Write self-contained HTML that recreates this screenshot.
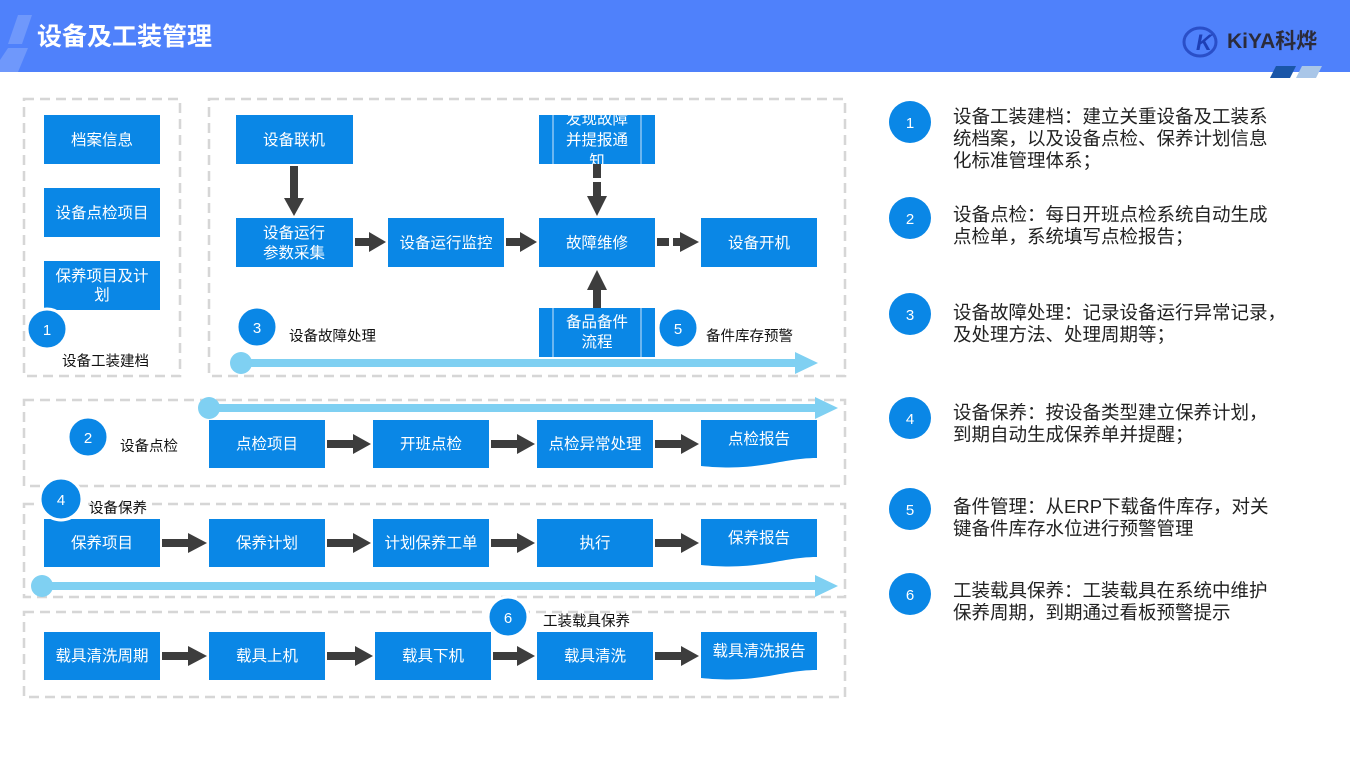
<!DOCTYPE html>
<html><head><meta charset="utf-8"><style>
body{margin:0;width:1350px;height:759px;overflow:hidden;background:#fff;font-family:"Liberation Sans","Noto Sans CJK SC",sans-serif;}
svg text{font-family:"Liberation Sans","Noto Sans CJK SC",sans-serif;}
</style></head><body>
<svg width="1350" height="759" viewBox="0 0 1350 759" xmlns="http://www.w3.org/2000/svg">
<defs>
<clipPath id="c1"><rect x="539" y="115" width="116" height="49"/></clipPath>
</defs>
<!-- header -->
<rect x="0" y="0" width="1350" height="72" fill="#4f81fb"/>
<polygon points="18,15 32,15 22,44 8,44" fill="#6f98fb"/>
<polygon points="8,48 28,48 18,72 0,72 0,60" fill="#6f98fb"/>
<text x="37" y="45" fill="#fff" font-size="25" font-weight="bold">设备及工装管理</text>
<ellipse cx="1200" cy="42" rx="16" ry="14" fill="none" stroke="#2a4fc8" stroke-width="3"/>
<text x="1196" y="50" fill="#1e3fb5" font-size="22" font-weight="bold" font-style="italic">K</text>
<text x="1227" y="48" fill="#2b2b3a" font-size="21" font-weight="bold">KiYA科烨</text>
<polygon points="1276,66 1296,66 1290,78 1270,78" fill="#1a56a8"/>
<polygon points="1302,66 1322,66 1316,78 1296,78" fill="#a9c6e8"/>

<g fill="none" stroke="#d6d6d6" stroke-width="2.5" stroke-dasharray="10,6">
<rect x="24" y="99" width="156" height="277"/>
<rect x="209" y="99" width="636" height="277"/>
<rect x="24" y="400" width="821" height="86"/>
<rect x="24" y="504" width="821" height="93"/>
<rect x="24" y="612" width="821" height="85"/>
</g>

<g fill="#7fd0f2">
<rect x="241" y="359" width="560" height="8"/><polygon points="795,352 818,363 795,374"/><circle cx="241" cy="363" r="11"/>
<rect x="209" y="404" width="610" height="8"/><polygon points="815,397 838,408 815,419"/><circle cx="209" cy="408" r="11"/>
<rect x="42" y="582" width="777" height="8"/><polygon points="815,575 838,586 815,597"/><circle cx="42" cy="586" r="11"/>
</g>

<g fill="#0a87e6">
<rect x="44" y="115" width="116" height="49"/>
<rect x="44" y="188" width="116" height="49"/>
<rect x="44" y="261" width="116" height="49"/>
<rect x="236" y="115" width="117" height="49"/>
<rect x="236" y="218" width="117" height="49"/>
<rect x="388" y="218" width="116" height="49"/>
<rect x="539" y="218" width="116" height="49"/>
<rect x="701" y="218" width="116" height="49"/>
<rect x="539" y="115" width="116" height="49"/>
<rect x="539" y="308" width="116" height="49"/>
<rect x="209" y="420" width="116" height="48"/>
<rect x="373" y="420" width="116" height="48"/>
<rect x="537" y="420" width="116" height="48"/>
<path d="M701,420 H817 V458 C780,458 760,472 701,466 Z"/>
<rect x="44" y="519" width="116" height="48"/>
<rect x="209" y="519" width="116" height="48"/>
<rect x="373" y="519" width="116" height="48"/>
<rect x="537" y="519" width="116" height="48"/>
<path d="M701,519 H817 V557 C780,557 760,571 701,565 Z"/>
<rect x="44" y="632" width="116" height="48"/>
<rect x="209" y="632" width="116" height="48"/>
<rect x="375" y="632" width="116" height="48"/>
<rect x="537" y="632" width="116" height="48"/>
<path d="M701,632 H817 V670 C780,670 760,684 701,678 Z"/>
</g>
<g stroke="#cfe6fa" stroke-width="1">
<line x1="553" y1="115" x2="553" y2="164"/><line x1="641" y1="115" x2="641" y2="164"/>
<line x1="553" y1="308" x2="553" y2="357"/><line x1="641" y1="308" x2="641" y2="357"/>
</g>

<g fill="#fff" font-size="15.5" text-anchor="middle">
<text x="102" y="145">档案信息</text>
<text x="102" y="218">设备点检项目</text>
<text x="102" y="281">保养项目及计</text><text x="102" y="300">划</text>
<text x="294" y="145">设备联机</text>
<text x="294" y="238">设备运行</text><text x="294" y="258">参数采集</text>
<text x="446" y="248">设备运行监控</text>
<text x="597" y="248">故障维修</text>
<text x="759" y="248">设备开机</text>
<g clip-path="url(#c1)"><text x="597" y="124">发现故障</text><text x="597" y="145">并提报通</text><text x="597" y="166">知</text></g>
<text x="597" y="327">备品备件</text><text x="597" y="347">流程</text>
<text x="267" y="449">点检项目</text>
<text x="431" y="449">开班点检</text>
<text x="595" y="449">点检异常处理</text>
<text x="759" y="444">点检报告</text>
<text x="102" y="548">保养项目</text>
<text x="267" y="548">保养计划</text>
<text x="431" y="548">计划保养工单</text>
<text x="595" y="548">执行</text>
<text x="759" y="543">保养报告</text>
<text x="102" y="661">载具清洗周期</text>
<text x="267" y="661">载具上机</text>
<text x="433" y="661">载具下机</text>
<text x="595" y="661">载具清洗</text>
<text x="759" y="656">载具清洗报告</text>
</g>

<g fill="#3d3d3d">
<rect x="290" y="166" width="8" height="34"/><polygon points="284,198 304,198 294,216"/>
<rect x="355" y="238" width="16" height="8"/><polygon points="369,232 386,242 369,252"/>
<rect x="506" y="238" width="16" height="8"/><polygon points="520,232 537,242 520,252"/>
<rect x="657" y="238" width="12" height="8"/><rect x="673" y="238" width="8" height="8"/><polygon points="680,232 699,242 680,252"/>
<rect x="593" y="164" width="8" height="14"/><rect x="593" y="182" width="8" height="14"/><polygon points="587,196 607,196 597,216"/>
<rect x="593" y="290" width="8" height="18"/><polygon points="587,290 607,290 597,270"/>
<rect x="327" y="440" width="28" height="8"/><polygon points="353,434 371,444 353,454"/>
<rect x="491" y="440" width="28" height="8"/><polygon points="517,434 535,444 517,454"/>
<rect x="655" y="440" width="28" height="8"/><polygon points="681,434 699,444 681,454"/>
<rect x="162" y="539" width="28" height="8"/><polygon points="188,533 207,543 188,553"/>
<rect x="327" y="539" width="28" height="8"/><polygon points="353,533 371,543 353,553"/>
<rect x="491" y="539" width="28" height="8"/><polygon points="517,533 535,543 517,553"/>
<rect x="655" y="539" width="28" height="8"/><polygon points="681,533 699,543 681,553"/>
<rect x="162" y="652" width="28" height="8"/><polygon points="188,646 207,656 188,666"/>
<rect x="327" y="652" width="30" height="8"/><polygon points="355,646 373,656 355,666"/>
<rect x="493" y="652" width="26" height="8"/><polygon points="517,646 535,656 517,666"/>
<rect x="655" y="652" width="28" height="8"/><polygon points="681,646 699,656 681,666"/>
</g>

<g fill="#0a87e6" stroke="#fff" stroke-width="3">
<circle cx="47" cy="329" r="20"/>
<circle cx="257" cy="327" r="20"/>
<circle cx="678" cy="328" r="20"/>
<circle cx="88" cy="437" r="20"/>
<circle cx="61" cy="499" r="21"/>
<circle cx="508" cy="617" r="20"/>
</g>
<g fill="#fff" font-size="15" text-anchor="middle">
<text x="47" y="335">1</text><text x="257" y="333">3</text><text x="678" y="334">5</text>
<text x="88" y="443">2</text><text x="61" y="505">4</text><text x="508" y="623">6</text>
</g>
<g fill="#111" font-size="14.5">
<text x="62" y="366">设备工装建档</text>
<text x="289" y="341">设备故障处理</text>
<text x="706" y="341">备件库存预警</text>
<text x="120" y="451">设备点检</text>
<text x="89" y="513">设备保养</text>
<text x="543" y="626">工装载具保养</text>
</g>

<g fill="#0a87e6">
<circle cx="910" cy="122" r="21"/><circle cx="910" cy="218" r="21"/><circle cx="910" cy="314" r="21"/>
<circle cx="910" cy="418" r="21"/><circle cx="910" cy="509" r="21"/><circle cx="910" cy="594" r="21"/>
</g>
<g fill="#fff" font-size="15" text-anchor="middle">
<text x="910" y="128">1</text><text x="910" y="224">2</text><text x="910" y="320">3</text>
<text x="910" y="424">4</text><text x="910" y="515">5</text><text x="910" y="600">6</text>
</g>
<g fill="#222" font-size="18.5">
<text x="953" y="123">设备工装建档：建立关重设备及工装系</text>
<text x="953" y="145">统档案，以及设备点检、保养计划信息</text>
<text x="953" y="167">化标准管理体系；</text>
<text x="953" y="221">设备点检：每日开班点检系统自动生成</text>
<text x="953" y="243">点检单，系统填写点检报告；</text>
<text x="953" y="319">设备故障处理：记录设备运行异常记录，</text>
<text x="953" y="341">及处理方法、处理周期等；</text>
<text x="953" y="419">设备保养：按设备类型建立保养计划，</text>
<text x="953" y="441">到期自动生成保养单并提醒；</text>
<text x="953" y="513">备件管理：从ERP下载备件库存，对关</text>
<text x="953" y="535">键备件库存水位进行预警管理</text>
<text x="953" y="597">工装载具保养：工装载具在系统中维护</text>
<text x="953" y="619">保养周期，到期通过看板预警提示</text>
</g>
</svg>
</body></html>
